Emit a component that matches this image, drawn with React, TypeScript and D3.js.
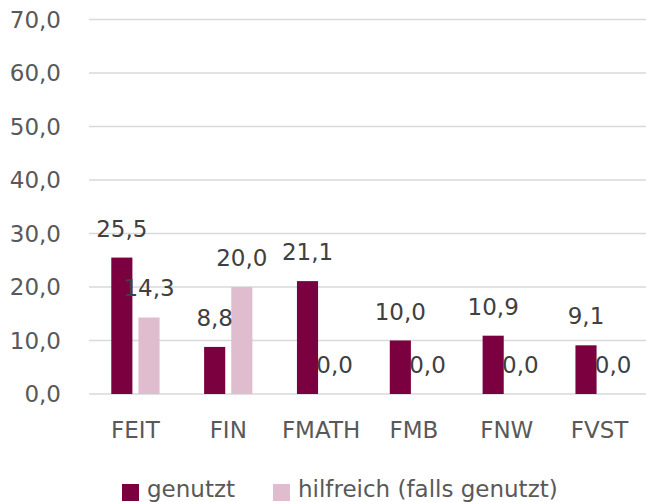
import { useEffect, useRef } from "react";
import * as d3 from "d3";

const categories = ["FEIT", "FIN", "FMATH", "FMB", "FNW", "FVST"];
const seriesNames = ["genutzt", "hilfreich (falls genutzt)"];
const genutzt = [25.5, 8.8, 21.1, 10.0, 10.9, 9.1];
const hilfreich = [14.3, 20.0, 0.0, 0.0, 0.0, 0.0];
const yTicks = [0, 10, 20, 30, 40, 50, 60, 70];

const colors = ["#7b003f", "#dfbdcf"];
const fmt = (v: number) => v.toFixed(1).replace(".", ",");

export default function App() {
  const svgRef = useRef<SVGSVGElement>(null);

  useEffect(() => {
    document.body.style.margin = "0";
    if (!svgRef.current) return;
    const svg = d3.select(svgRef.current);
    svg.selectAll("*").remove();

    const width = 646;
    const height = 502;
    const font = "DejaVu Sans, Verdana, sans-serif";

    const x = d3.scaleBand<string>()
      .domain(categories)
      .range([89, 646])
      .paddingInner(0.48)
      .paddingOuter(0.24);

    const xs = d3.scaleBand<string>()
      .domain(seriesNames)
      .range([0, x.bandwidth()])
      .paddingInner(0.222);

    const y = d3.scaleLinear().domain([0, 70]).range([394, 19.5]);

    svg.attr("width", width).attr("height", height);

    // gridlines
    svg.append("g")
      .selectAll("line")
      .data(yTicks)
      .join("line")
      .attr("x1", 89)
      .attr("x2", 646)
      .attr("y1", (d) => y(d))
      .attr("y2", (d) => y(d))
      .attr("stroke", "#d9d9d9")
      .attr("stroke-width", 1.5);

    // y labels
    svg.append("g")
      .selectAll("text")
      .data(yTicks)
      .join("text")
      .attr("x", 61)
      .attr("y", (d) => y(d))
      .attr("dy", "0.35em")
      .attr("text-anchor", "end")
      .attr("font-family", font)
      .attr("font-size", 23)
      .attr("fill", "#595959")
      .text((d) => fmt(d));

    const series = [genutzt, hilfreich];

    series.forEach((values, si) => {
      const name = seriesNames[si];
      const g = svg.append("g");
      g.selectAll("rect")
        .data(values)
        .join("rect")
        .attr("x", (_, i) => (x(categories[i]) ?? 0) + (xs(name) ?? 0))
        .attr("y", (d) => y(d))
        .attr("width", xs.bandwidth())
        .attr("height", (d) => y(0) - y(d))
        .attr("fill", colors[si]);
    });

    series.forEach((values, si) => {
      const name = seriesNames[si];
      svg.append("g")
        .selectAll("text")
        .data(values)
        .join("text")
        .attr("x", (_, i) => (x(categories[i]) ?? 0) + (xs(name) ?? 0) + xs.bandwidth() / 2)
        .attr("y", (d) => y(d) - 21)
        .attr("text-anchor", "middle")
        .attr("font-family", font)
        .attr("font-size", 23)
        .attr("fill", "#404040")
        .text((d) => fmt(d));
    });

    // x labels
    svg.append("g")
      .selectAll("text")
      .data(categories)
      .join("text")
      .attr("x", (d) => (x(d) ?? 0) + x.bandwidth() / 2)
      .attr("y", 438)
      .attr("text-anchor", "middle")
      .attr("font-family", font)
      .attr("font-size", 23)
      .attr("fill", "#595959")
      .text((d) => d);

    // legend
    const legendX = [122, 273];
    const lg = svg.append("g");
    seriesNames.forEach((name, i) => {
      lg.append("rect")
        .attr("x", legendX[i])
        .attr("y", 484)
        .attr("width", 17)
        .attr("height", 17)
        .attr("fill", colors[i]);
      lg.append("text")
        .attr("x", legendX[i] + 25)
        .attr("y", 497)
        .attr("font-family", font)
        .attr("font-size", 23)
        .attr("fill", "#595959")
        .text(name);
    });
  }, []);

  return <svg ref={svgRef} style={{ display: "block" }} />;
}
